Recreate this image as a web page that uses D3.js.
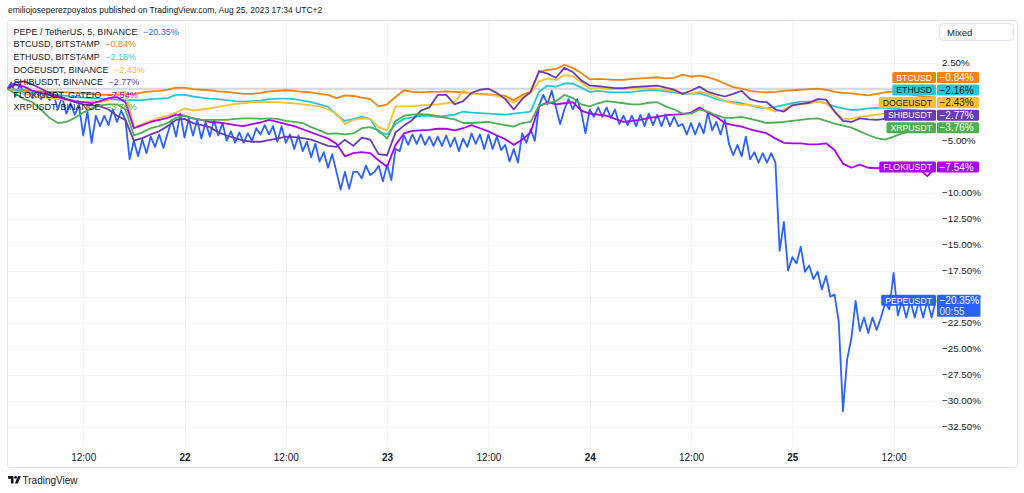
<!DOCTYPE html>
<html>
<head>
<meta charset="utf-8">
<script src="https://cdn.jsdelivr.net/npm/d3@7"></script>
<style>
  html, body { margin: 0; padding: 0; background: #ffffff; }
  svg { display: block; font-family: "Liberation Sans", Arial, sans-serif; }
</style>
</head>
<body>
<svg id="chart" width="1024" height="493"></svg>
<script>
"use strict";

// first bar of every series: Aug 21 03:00, hourly steps (PEPE: half-hourly)
var startTime = new Date(2023, 7, 21, 3, 0);

var btcusd = [
  0, -0.1, -0.15, -0.2, -0.25, -0.3, -0.3, -0.35, -0.4, -0.45,
  -0.5, -0.6, -0.6, -0.6, -0.55, -0.5, -0.35, -0.25, -0.2, -0.1,
  0.1, 0.1, -0.05, -0.1, -0.15, -0.25, -0.3, -0.4, -0.5, -0.5,
  -0.4, -0.25, -0.2, -0.15, -0.2, -0.3, -0.35, -0.5, -0.6, -0.9,
  -0.65, -0.7, -0.85, -1.0, -1.7, -1.5, -0.8, -0.15, -0.3, -0.35,
  -0.3, -0.3, -0.25, -0.3, -0.35, -0.45, -0.5, -0.55, -0.6, -0.7,
  -1.1, -0.6, -0.3, 1.6, 1.8, 1.9, 2.3, 2.0, 1.5, 0.9,
  0.95, 0.9, 0.85, 0.85, 0.95, 1.0, 1.05, 1.1, 1.0, 1.05,
  1.35, 1.15, 1.25, 1.1, 0.85, 0.5, 0.15, 0.0, -0.2, -0.3,
  -0.35, -0.3, -0.2, -0.15, -0.1, -0.05, 0.0, -0.1, -0.3, -0.4,
  -0.45, -0.55, -0.65, -0.5, -0.35, -0.25, -0.4, -0.55, -0.7, -0.8, -0.84
];

var ethusd = [
  0, -0.15, -0.3, -0.4, -0.5, -0.6, -0.6, -0.7, -0.8, -0.85,
  -0.9, -0.95, -1.0, -1.05, -1.1, -1.1, -1.1, -1.0, -0.95, -0.9,
  -0.6, -0.6, -0.75, -0.85, -0.95, -1.0, -1.1, -1.2, -1.25, -1.2,
  -1.15, -1.0, -0.95, -0.95, -1.0, -1.15, -1.3, -1.5, -1.75, -2.5,
  -3.1, -2.9, -2.7, -2.9, -4.2, -4.4, -3.4, -2.9, -2.75, -2.6,
  -2.6, -2.7, -2.6, -2.5, -2.2, -2.3, -2.35, -2.4, -2.45, -2.5,
  -2.4, -2.3, -2.2, -0.3, 0.3, 0.2, 0.5, 0.5, 0.1, -0.3,
  -0.2, -0.3, -0.35, -0.35, -0.3, -0.2, -0.15, -0.15, -0.25, -0.35,
  -0.5, -0.5, -0.45, -0.7, -1.0, -1.2, -1.3, -1.4, -1.6, -1.8,
  -1.9, -1.75, -1.55, -1.4, -1.25, -1.25, -1.25, -1.4, -1.7, -1.9,
  -2.05, -2.0, -1.9, -1.85, -1.85, -1.9, -2.0, -2.05, -2.1, -2.15, -2.16
];

var dogeusdt = [
  0, -0.3, -0.5, -0.7, -0.8, -0.9, -1.0, -1.1, -1.2, -1.3,
  -1.2, -1.3, -1.1, -0.4, -0.3, -3.7, -3.4, -3.1, -2.8, -2.6,
  -2.3, -1.9, -2.1, -2.0, -1.9, -1.75, -1.6, -1.45, -1.4, -1.3,
  -1.3, -1.3, -1.3, -1.35, -1.4, -1.5, -1.6, -1.7, -2.0, -2.4,
  -3.4, -3.0, -2.85, -2.9, -3.7, -4.0, -1.7, -1.7, -1.7, -1.6,
  -1.55, -1.5, -1.4, -1.3, -0.2, -0.5, -0.55, -0.6, -0.7, -0.9,
  -1.35, -0.8, -0.45, 0.7, 1.0, 0.85, 1.3, 1.2, 0.6, 0.0,
  0.1, 0.0, -0.05, -0.05, 0.05, 0.1, 0.05, 0.0, -0.1, -0.2,
  -0.45, -0.5, -0.3, -0.5, -0.8, -1.2, -1.4, -1.55, -1.55, -1.7,
  -1.9, -2.2, -2.0, -1.6, -1.5, -1.4, -1.25, -1.4, -2.1, -2.9,
  -2.9, -2.7, -2.6, -2.5, -2.4, -2.4, -2.35, -2.4, -2.45, -2.45, -2.43
];

var shibusdt = [
  0, 0.6, 0.7, 0.4, 0.0, -0.4, -0.7, -1.0, -1.3, -1.5,
  -1.6, -1.7, -2.0, -2.6, -3.0, -5.0, -4.75, -4.4, -4.1, -3.6,
  -3.0, -2.9, -3.3, -3.5, -3.7, -4.2, -4.5, -4.75, -5.0, -5.1,
  -5.1, -4.95, -4.8, -4.6, -4.65, -4.75, -4.9, -5.2, -5.5, -5.6,
  -4.9, -5.5, -4.7, -4.9, -6.3, -6.4, -4.2, -3.55, -3.0, -2.1,
  -1.8, -0.6, -0.6, -1.5, -1.2, -0.4, -0.1, 0.0, -0.4, -1.0,
  -2.0, -1.0, -0.3, 1.7, 1.45, 1.05, 2.0, 1.6, 0.8, 0.3,
  0.25, 0.15, 0.05, 0.05, 0.15, 0.2, 0.25, 0.3, 0.1, -0.1,
  -0.5, -0.2, 0.2, -0.3, -0.55, -0.75, -0.5, -0.2, -1.0, -1.25,
  -1.3, -2.0, -2.2, -1.6, -1.45, -1.35, -1.0, -1.05, -2.2, -3.1,
  -3.2, -2.85, -2.95, -3.0, -2.9, -2.85, -2.9, -2.85, -2.8, -2.8, -2.77
];

var flokiusdt = [
  0, 0.4, 0.2, -0.2, -0.4, -0.6, -0.8, -1.0, -1.2, -1.3,
  -1.4, -1.2, -0.9, -0.8, -1.3, -3.8, -3.5, -3.2, -3.0, -2.8,
  -2.5, -2.6, -2.85, -3.0, -3.2, -3.25, -3.35, -3.5, -3.6, -3.4,
  -3.25, -3.0, -3.2, -3.4, -3.6, -3.9, -4.2, -4.5, -4.8, -5.3,
  -6.5, -6.2, -6.1, -6.2, -6.9, -7.5, -5.4, -4.3, -4.05, -4.0,
  -3.95, -3.85, -3.85, -4.0, -3.8, -3.5, -3.8, -4.1, -4.5, -4.85,
  -5.4, -4.9, -4.2, -1.7, -1.3, -1.5, -1.4, -1.3, -2.1, -2.4,
  -2.5, -2.6, -2.9, -3.2, -3.1, -3.0, -2.8, -2.7, -2.55, -2.5,
  -2.45, -2.3, -1.8, -2.3, -2.7, -3.3, -3.5, -3.65, -3.9, -4.1,
  -4.3, -4.8, -5.2, -5.25, -5.25, -5.35, -5.35, -5.25, -5.9, -7.2,
  -7.6, -7.3, -7.6, -7.65, -7.6, -7.5, -7.55, -7.6, -7.7, -8.4, -7.54
];

var xrpusdt = [
  0, -0.5, -1.0, -1.3, -2.0, -2.8, -3.3, -3.2, -2.8, -2.3,
  -1.9, -1.6, -1.5, -1.5, -2.0, -4.5, -4.2, -3.8, -3.6, -3.3,
  -2.8, -2.6, -2.85, -3.0, -3.0, -3.0, -3.0, -2.9, -2.85, -2.85,
  -2.9, -2.85, -2.9, -3.1, -3.2, -3.3, -3.7, -4.0, -4.35, -4.3,
  -4.4, -4.3, -3.8, -3.7, -4.0, -4.8, -3.1, -2.6, -2.5, -2.45,
  -2.5, -2.65, -2.8, -2.95, -3.3, -3.3, -3.25, -3.2, -3.35, -3.5,
  -3.65, -3.3, -3.2, -1.6, -1.4, -1.2, -0.6, -0.9, -1.5, -1.7,
  -1.4, -1.2, -1.3, -1.4, -1.5, -1.5, -1.35, -1.3, -1.7, -2.0,
  -2.4, -2.4, -2.0, -2.2, -2.55, -2.8, -2.8, -2.7, -2.9, -3.1,
  -3.3, -3.25, -3.2, -3.1, -3.0, -2.9, -2.85, -3.1, -3.35, -3.55,
  -3.75, -4.1, -4.45, -4.75, -4.9, -4.6, -4.3, -4.1, -4.0, -3.9, -3.76
];

var pepeusdt = [
  0, 0.6, -0.7, 0.4, -0.5, -0.2, -0.9, -0.3, -1.0, -0.4,
  -1.1, -0.6, -2.0, -0.8, -2.4, -1.4, -2.5, -1.6, -4.5, -2.2,
  -5.2, -2.6, -3.6, -2.6, -3.5, -2.0, -3.2, -2.1, -3.0, -6.8,
  -5.0, -6.5, -4.9, -6.2, -4.6, -5.6, -4.4, -5.7, -4.3, -3.0,
  -4.6, -2.4, -4.7, -2.9, -4.5, -3.0, -4.8, -3.2, -4.6, -3.0,
  -4.5, -3.3, -5.0, -4.1, -5.2, -4.2, -5.2, -4.3, -5.0, -3.8,
  -4.4, -3.5, -4.4, -3.6, -5.1, -3.6, -5.2, -4.4, -5.8, -4.5,
  -6.0, -5.1, -6.6, -5.3, -7.0, -6.1, -7.6, -6.3, -8.0, -9.7,
  -8.0, -9.6, -8.0, -8.0, -8.6, -7.4, -8.3, -8.0, -7.4, -8.9,
  -7.3, -8.8, -5.8, -6.0, -4.5, -5.4, -4.4, -5.3, -4.4, -5.4,
  -4.6, -5.5, -4.6, -5.5, -4.5, -5.6, -4.7, -6.0, -4.8, -5.6,
  -4.3, -5.3, -4.4, -5.8, -4.4, -5.8, -4.6, -5.9, -5.4, -7.0,
  -5.8, -7.1, -4.3, -5.2, -3.9, -5.0, -1.6, -0.6, -1.5, -0.2,
  -1.8, -3.4, -2.0, -1.0, -2.0, -1.0, -2.2, -4.3, -2.0, -2.7,
  -1.8, -2.7, -1.8, -2.8, -2.0, -3.4, -2.6, -3.5, -2.6, -3.6,
  -2.5, -3.6, -2.4, -3.5, -2.5, -3.6, -2.5, -3.6, -2.7, -3.6,
  -3.4, -4.4, -3.3, -4.4, -3.3, -4.3, -2.3, -4.0, -3.2, -4.4,
  -3.0, -5.3, -6.4, -5.4, -6.5, -4.6, -6.8, -6.1, -7.1, -6.2,
  -7.1, -6.2, -7.1, -15.6, -12.8, -17.5, -16.2, -16.8, -15.2, -17.6,
  -17.0, -18.3, -17.6, -19.3, -18.0, -20.0, -19.8, -22.4, -31.0, -26.0,
  -24.0, -20.4, -23.3, -22.0, -23.5, -22.0, -23.2, -22.0, -20.6, -21.2,
  -17.7, -21.8, -20.4, -22.0, -20.4, -22.0, -20.4, -22.0, -20.4, -22.0,
  -20.35
];

var yTicks = [2.5, 0, -2.5, -5, -7.5, -10, -12.5, -15, -17.5, -20, -22.5, -25, -27.5, -30, -32.5];
var xTicks = d3.timeHour.every(12).range(new Date(2023, 7, 21, 6), new Date(2023, 7, 25, 18));

var series = [
  { key: "PEPEUSDT", legend: "PEPE / TetherUS, 5, BINANCE", color: "#2962ff", text: "#ffffff", step: 0.5, values: pepeusdt, width: 1.8 },
  { key: "BTCUSD", legend: "BTCUSD, BITSTAMP", color: "#f7820e", text: "#ffffff", step: 1, values: btcusd, width: 1.8 },
  { key: "ETHUSD", legend: "ETHUSD, BITSTAMP", color: "#26c6da", text: "#131722", step: 1, values: ethusd, width: 1.8 },
  { key: "DOGEUSDT", legend: "DOGEUSDT, BINANCE", color: "#fbc02d", text: "#131722", step: 1, values: dogeusdt, width: 1.8 },
  { key: "SHIBUSDT", legend: "SHIBUSDT, BINANCE", color: "#673ab7", text: "#ffffff", step: 1, values: shibusdt, width: 1.8 },
  { key: "FLOKIUSDT", legend: "FLOKIUSDT, GATEIO", color: "#aa00ff", text: "#ffffff", step: 1, values: flokiusdt, width: 1.8 },
  { key: "XRPUSDT", legend: "XRPUSDT, BINANCE", color: "#4caf50", text: "#ffffff", step: 1, values: xrpusdt, width: 1.8 }
];

var plotLeft = 7.5, plotRight = 937, plotTop = 20.5, plotBottom = 447;
var textColor = "#131722";

var svg = d3.select("#chart");

var x = d3.scaleTime()
    .domain([new Date(2023, 7, 22), new Date(2023, 7, 25)])
    .range([184.5, 792.3]);

var y = d3.scaleLinear()
    .domain([2.5, -32.5])
    .range([62.7, 426.7]);

function fmtPct(v) {
    var s = Math.abs(v).toFixed(2) + "%";
    return v < 0 ? "\u2212" + s : s;
}

function toPoints(s) {
    return s.values.map(function (v, i) {
        return { t: new Date(startTime.getTime() + i * s.step * 3600e3), v: v };
    });
}

// header
svg.append("text")
    .attr("x", 8).attr("y", 13)
    .attr("font-size", 8.5)
    .attr("fill", textColor)
    .text("emiliojoseperezpoyatos published on TradingView.com, Aug 25, 2023 17:34 UTC+2");

// frame
svg.append("rect")
    .attr("x", 7.5).attr("y", 20.5)
    .attr("width", 1010).attr("height", 447)
    .attr("rx", 3)
    .attr("fill", "#ffffff")
    .attr("stroke", "#e0e3eb");

// grid
var grid = svg.append("g");
grid.selectAll("line.h")
    .data(yTicks)
    .enter().append("line")
    .attr("class", "h")
    .attr("x1", plotLeft).attr("x2", plotRight)
    .attr("y1", function (d) { return Math.round(y(d)) + 0.5; })
    .attr("y2", function (d) { return Math.round(y(d)) + 0.5; })
    .attr("stroke", "#f0f3fa");
grid.selectAll("line.v")
    .data(xTicks)
    .enter().append("line")
    .attr("class", "v")
    .attr("x1", function (d) { return Math.round(x(d)) + 0.5; })
    .attr("x2", function (d) { return Math.round(x(d)) + 0.5; })
    .attr("y1", plotTop).attr("y2", plotBottom)
    .attr("stroke", "#f0f3fa");

// zero baseline of the compare mode
grid.append("line")
    .attr("x1", plotLeft).attr("x2", plotRight)
    .attr("y1", y(0)).attr("y2", y(0))
    .attr("stroke", "#d6d8de")
    .attr("stroke-width", 2);

svg.append("clipPath").attr("id", "plotclip")
    .append("rect")
    .attr("x", plotLeft).attr("y", plotTop)
    .attr("width", plotRight - plotLeft).attr("height", plotBottom - plotTop);

var line = d3.line()
    .x(function (d) { return x(d.t); })
    .y(function (d) { return y(d.v); });

svg.append("g")
    .attr("clip-path", "url(#plotclip)")
    .selectAll("path")
    .data(series)
    .enter().append("path")
    .attr("d", function (s) { return line(toPoints(s)); })
    .attr("fill", "none")
    .attr("stroke", function (s) { return s.color; })
    .attr("stroke-width", function (s) { return s.width; })
    .attr("stroke-linejoin", "round");

// legend
var legend = svg.append("g").attr("font-size", 9);
series.forEach(function (s, i) {
    var ly = 34.8 + i * 12.6;
    var name = legend.append("text")
        .attr("x", 13.5).attr("y", ly)
        .attr("fill", textColor)
        .text(s.legend);
    var w = name.node().getComputedTextLength();
    legend.append("text")
        .attr("x", 13.5 + w + 5.5).attr("y", ly)
        .attr("fill", s.key === "DOGEUSDT" ? "#f9b52b" : s.color)
        .text(fmtPct(s.values[s.values.length - 1]));
});

// badge positions: stacked upward so they never overlap
var badgeH = 11, pitch = 12.6;
var badges = series.map(function (s) {
    var last = s.values[s.values.length - 1];
    return { s: s, v: last, cy: y(last) };
}).sort(function (a, b) { return b.cy - a.cy; });
for (var i = 1; i < badges.length; i++) {
    badges[i].cy = Math.min(badges[i].cy, badges[i - 1].cy - pitch);
}

// price axis
var yAxisG = svg.append("g")
    .attr("transform", "translate(942,0)")
    .call(d3.axisRight(y).tickValues(yTicks).tickSize(0).tickPadding(0).tickFormat(fmtPct));
yAxisG.select(".domain").remove();
yAxisG.selectAll("text")
    .attr("font-size", 9.8)
    .attr("font-family", "Liberation Sans, Arial, sans-serif")
    .attr("fill", textColor)
    .style("display", function (d) {
        var hit = badges.some(function (b) {
            var top = b.cy - badgeH / 2 - 3;
            var bottom = b.cy + (b.s.key === "PEPEUSDT" ? 16.5 : badgeH / 2) + 3;
            return y(d) > top && y(d) < bottom;
        });
        return hit ? "none" : null;
    });

// time axis
var xAxisG = svg.append("g")
    .attr("transform", "translate(0,454)")
    .call(d3.axisBottom(x).tickValues(xTicks).tickSize(0).tickPadding(0)
        .tickFormat(function (d) { return d.getHours() === 0 ? d3.timeFormat("%-d")(d) : "12:00"; }));
xAxisG.select(".domain").remove();
xAxisG.selectAll("text")
    .attr("font-size", 10)
    .attr("font-family", "Liberation Sans, Arial, sans-serif")
    .attr("fill", textColor)
    .attr("font-weight", function (d) { return d.getHours() === 0 ? "bold" : null; });

// badges
var badgeG = svg.append("g");
badges.forEach(function (b) {
    var top = b.cy - badgeH / 2;
    var isMain = b.s.key === "PEPEUSDT";
    var name = badgeG.append("text")
        .attr("y", b.cy + 3.2)
        .attr("font-size", 8.7)
        .attr("fill", b.s.text)
        .text(b.s.key);
    var w = name.node().getComputedTextLength() + 8;
    badgeG.insert("rect", "text")
        .attr("x", 936 - w).attr("y", top)
        .attr("width", w).attr("height", badgeH)
        .attr("rx", 1.5)
        .attr("fill", b.s.color);
    name.attr("x", 936 - w + 4);

    badgeG.insert("rect", "text")
        .attr("x", 937).attr("y", top)
        .attr("width", isMain ? 43.5 : 42).attr("height", isMain ? 22 : badgeH)
        .attr("rx", 1.5)
        .attr("fill", b.s.color);
    badgeG.append("text")
        .attr("x", 939.5).attr("y", b.cy + 3.5)
        .attr("font-size", 10)
        .attr("fill", b.s.text)
        .text(fmtPct(b.v));
    if (isMain) {
        badgeG.append("text")
            .attr("x", 939.5).attr("y", b.cy + 14.4)
            .attr("font-size", 10)
            .attr("fill", "#ffffff")
            .attr("fill-opacity", 0.85)
            .text("00:55");
    }
});

// "Mixed" scale selector
svg.append("rect")
    .attr("x", 939.5).attr("y", 23.5)
    .attr("width", 74).attr("height", 17)
    .attr("rx", 4)
    .attr("fill", "#ffffff")
    .attr("stroke", "#e0e3eb");
svg.append("text")
    .attr("x", 947).attr("y", 35.5)
    .attr("font-size", 9.5)
    .attr("fill", textColor)
    .text("Mixed");

// footer logo
var logo = svg.append("g").attr("fill", textColor);
logo.append("path").attr("d", "M8,476 h5.5 v7.5 h-2.6 v-4.8 h-2.9 z");
logo.append("circle").attr("cx", 15.6).attr("cy", 477.4).attr("r", 1.4);
logo.append("path").attr("d", "M18,476 h2.9 l-3.1,7.5 h-2.9 z");
svg.append("text")
    .attr("x", 22.5).attr("y", 483.5)
    .attr("font-size", 10)
    .attr("fill", textColor)
    .text("TradingView");
</script>
</body>
</html>
